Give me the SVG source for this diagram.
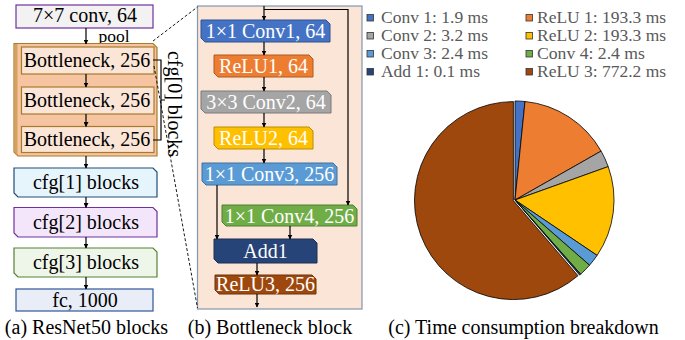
<svg xmlns="http://www.w3.org/2000/svg" width="685" height="340" viewBox="0 0 685 340">
  <defs>
    <marker id="arrow" viewBox="0 0 10 10" refX="9" refY="5" markerWidth="5" markerHeight="5" orient="auto" markerUnits="userSpaceOnUse">
      <path d="M0,0 L10,5 L0,10 Z" fill="#000"/>
    </marker>
    <style>
      text { font-family: "Liberation Serif", "Times New Roman", serif; }
      .lbl { font-size: 20px; fill: #000; text-anchor: middle; }
      .wlbl { font-size: 20px; fill: #fff; text-anchor: middle; }
      .cap { font-size: 20px; fill: #000; text-anchor: middle; }
      .leg { font-size: 16px; fill: #595959; }
      .edge { fill: none; stroke: #000; stroke-width: 1.2; }
      .arr { fill: none; stroke: #000; stroke-width: 1.2; marker-end: url(#arrow); }
      .dash { fill: none; stroke: #000; stroke-width: 0.9; stroke-dasharray: 3 2; }
      .slice { stroke: #000; stroke-width: 0.8; }
      .sq { stroke: #333; stroke-width: 0.8; }
    </style>
  </defs>

  <!-- (a) ResNet50 blocks -->
  <g id="stem">
    <rect x="16" y="5" width="137" height="23" fill="#f2f2f2" stroke="#7030a0" stroke-width="1.2"/>
    <text class="lbl" x="85" y="22.2">7×7 conv, 64</text>
  </g>
  <text class="lbl" x="114" y="42" style="font-size:17.5px">pool</text>

  <g id="cfg0">
    <path d="M14,43.5 H153 L157,47.5 V156 H18 L14,152 Z" fill="#f6c4a0" stroke="#a87b2c" stroke-width="1.2"/>
    <path d="M14.6,44 H17.5 V155.5 H17.5 L14.6,152 Z" fill="#d6a15e"/>
  </g>
  <g id="bottleneck1">
    <rect x="21.5" y="47" width="132.5" height="27" fill="#fbe5d6" stroke="#a87b2c" stroke-width="1.2"/>
    <text class="lbl" x="87" y="67">Bottleneck, 256</text>
  </g>
  <g id="bottleneck2">
    <rect x="21.5" y="87" width="132.5" height="27" fill="#fbe5d6" stroke="#a87b2c" stroke-width="1.2"/>
    <text class="lbl" x="87" y="107">Bottleneck, 256</text>
  </g>
  <g id="bottleneck3">
    <rect x="21.5" y="126.5" width="132.5" height="26" fill="#fbe5d6" stroke="#a87b2c" stroke-width="1.2"/>
    <text class="lbl" x="87" y="146">Bottleneck, 256</text>
  </g>
  <g id="cfg0-label">
    <path class="edge" d="M153,60 H161 V140 H153 M161,100 H165"/>
    <text class="lbl" transform="translate(168,104) rotate(90)">cfg[0] blocks</text>
  </g>

  <g id="cfg1">
    <path d="M14,168 H153 L157,172 V197 H18 L14,193 Z" fill="#e6f5fc" stroke="#1f4e79" stroke-width="1.2"/>
    <text class="lbl" x="86" y="189">cfg[1] blocks</text>
  </g>
  <g id="cfg2">
    <path d="M14,207.5 H153 L157,211.5 V237 H18 L14,233 Z" fill="#f3e6fa" stroke="#7030a0" stroke-width="1.2"/>
    <text class="lbl" x="86" y="228.5">cfg[2] blocks</text>
  </g>
  <g id="cfg3">
    <path d="M14,248 H153 L157,252 V277 H18 L14,273 Z" fill="#eef5e9" stroke="#548235" stroke-width="1.2"/>
    <text class="lbl" x="86" y="269">cfg[3] blocks</text>
  </g>
  <g id="fc">
    <rect x="16" y="289" width="137" height="22" fill="#e9edf8" stroke="#2f5597" stroke-width="1.2"/>
    <text class="lbl" x="85" y="307">fc, 1000</text>
  </g>

  <!-- (b) Bottleneck block -->
  <g id="bottleneck-panel">
    <rect x="197.5" y="6" width="164.5" height="303" fill="#fbe5d6" stroke="#8497b0" stroke-width="1.2"/>
  </g>
  <g id="conv1">
    <path d="M201,20 H326 L330,24 V42 H205 L201,38 Z" fill="#4472c4" stroke="#2f528f" stroke-width="1"/>
    <text class="wlbl" x="265.5" y="38">1×1 Conv1, 64</text>
  </g>
  <g id="relu1">
    <path d="M214,55 H309 L313,59 V77 H218 L214,73 Z" fill="#ed7d31" stroke="#ae5a21" stroke-width="1"/>
    <text class="wlbl" x="263.5" y="73">ReLU1, 64</text>
  </g>
  <g id="conv2">
    <path d="M201,91 H327 L331,95 V113 H205 L201,109 Z" fill="#a5a5a5" stroke="#7b7b7b" stroke-width="1"/>
    <text class="wlbl" x="266" y="109">3×3 Conv2, 64</text>
  </g>
  <g id="relu2">
    <path d="M214,127 H309 L313,131 V149 H218 L214,145 Z" fill="#ffc000" stroke="#bc8c00" stroke-width="1"/>
    <text class="wlbl" x="263.5" y="145">ReLU2, 64</text>
  </g>
  <g id="conv3">
    <path d="M202,163 H333 L337,167 V185 H206 L202,181 Z" fill="#5b9bd5" stroke="#41719c" stroke-width="1"/>
    <text class="wlbl" x="269.5" y="181">1×1 Conv3, 256</text>
  </g>
  <g id="conv4">
    <path d="M222,205 H353 L357,209 V226 H226 L222,222 Z" fill="#70ad47" stroke="#507e32" stroke-width="1"/>
    <text class="wlbl" x="289.5" y="222.5">1×1 Conv4, 256</text>
  </g>
  <g id="add1">
    <path d="M214,239 H313 L317,243 V263 H218 L214,259 Z" fill="#264478" stroke="#1a2f53" stroke-width="1"/>
    <text class="wlbl" x="265.5" y="258">Add1</text>
  </g>
  <g id="relu3">
    <path d="M215,275 H312 L316,279 V294 H219 L215,290 Z" fill="#9e480e" stroke="#6f3209" stroke-width="1"/>
    <text class="wlbl" x="265.5" y="291">ReLU3, 256</text>
  </g>

  <!-- connectors -->
  <g id="connectors">
    <path class="arr" d="M86,28 V44"/>
    <path class="arr" d="M86,74 V87"/>
    <path class="arr" d="M86,114 V126.5"/>
    <path class="arr" d="M86,156 V168"/>
    <path class="arr" d="M86,197 V207.5"/>
    <path class="arr" d="M86,237 V248"/>
    <path class="arr" d="M86,277 V289"/>
    <path class="dash" d="M153,41 L197.5,7"/>
    <path class="dash" d="M154,66 L197.5,308"/>
    <path class="arr" d="M264,6 V20"/>
    <path class="arr" d="M264,9.5 H348 V205"/>
    <path class="arr" d="M264,42 V55"/>
    <path class="arr" d="M264,77 V91"/>
    <path class="arr" d="M264,113 V127"/>
    <path class="arr" d="M264,149 V163"/>
    <path class="arr" d="M217,185 V239"/>
    <path class="arr" d="M290,226 V239"/>
    <path class="arr" d="M257,263 V275"/>
    <path class="arr" d="M257,294 V307"/>
  </g>

  <!-- (c) time consumption pie -->
  <g id="legend">
    <rect class="sq" x="367" y="14.5" width="6.5" height="6.5" fill="#4472c4"/>
    <text class="leg" x="381" y="23" textLength="107" lengthAdjust="spacingAndGlyphs">Conv 1: 1.9 ms</text>
    <rect class="sq" x="367" y="32.5" width="6.5" height="6.5" fill="#a5a5a5"/>
    <text class="leg" x="381" y="41" textLength="107" lengthAdjust="spacingAndGlyphs">Conv 2: 3.2 ms</text>
    <rect class="sq" x="367" y="50.5" width="6.5" height="6.5" fill="#5b9bd5"/>
    <text class="leg" x="381" y="59" textLength="107" lengthAdjust="spacingAndGlyphs">Conv 3: 2.4 ms</text>
    <rect class="sq" x="367" y="68.5" width="6.5" height="6.5" fill="#264478"/>
    <text class="leg" x="381" y="77" textLength="99" lengthAdjust="spacingAndGlyphs">Add 1: 0.1 ms</text>
    <rect class="sq" x="526" y="14.5" width="6.5" height="6.5" fill="#ed7d31"/>
    <text class="leg" x="537" y="23" textLength="129" lengthAdjust="spacingAndGlyphs">ReLU 1: 193.3 ms</text>
    <rect class="sq" x="526" y="32.5" width="6.5" height="6.5" fill="#ffc000"/>
    <text class="leg" x="537" y="41" textLength="129" lengthAdjust="spacingAndGlyphs">ReLU 2: 193.3 ms</text>
    <rect class="sq" x="526" y="50.5" width="6.5" height="6.5" fill="#70ad47"/>
    <text class="leg" x="537" y="59" textLength="108" lengthAdjust="spacingAndGlyphs">Conv 4: 2.4 ms</text>
    <rect class="sq" x="526" y="68.5" width="6.5" height="6.5" fill="#9e480e"/>
    <text class="leg" x="537" y="77" textLength="129" lengthAdjust="spacingAndGlyphs">ReLU 3: 772.2 ms</text>
  </g>
  <g id="pie">
    <path class="slice" fill="#4472c4" d="M515,200 L515,101 A99,99 0 0 1 525,101.5 Z"/>
    <path class="slice" fill="#ed7d31" d="M515,200 L525,101.5 A99,99 0 0 1 601.1,151.1 Z"/>
    <path class="slice" fill="#a5a5a5" d="M515,200 L601.1,151.1 A99,99 0 0 1 608.2,166.6 Z"/>
    <path class="slice" fill="#ffc000" d="M515,200 L608.2,166.6 A99,99 0 0 1 597.1,255.4 Z"/>
    <path class="slice" fill="#5b9bd5" d="M515,200 L597.1,255.4 A99,99 0 0 1 589.5,265.2 Z"/>
    <path class="slice" fill="#70ad47" d="M515,200 L589.5,265.2 A99,99 0 0 1 580.6,274.2 Z"/>
    <path class="slice" fill="#264478" d="M515,200 L580.6,274.2 A99,99 0 0 1 579.6,275.1 Z"/>
    <path class="slice" fill="#9e480e" stroke-linejoin="round" transform="translate(-1.6,0.6)" d="M515,200 L579.6,275.1 A99,99 0 1 1 515,101 Z"/>
  </g>

  <!-- captions -->
  <text class="cap" x="86.5" y="334">(a) ResNet50 blocks</text>
  <text class="cap" x="270" y="334">(b) Bottleneck block</text>
  <text class="cap" x="523.5" y="334">(c) Time consumption breakdown</text>
</svg>
